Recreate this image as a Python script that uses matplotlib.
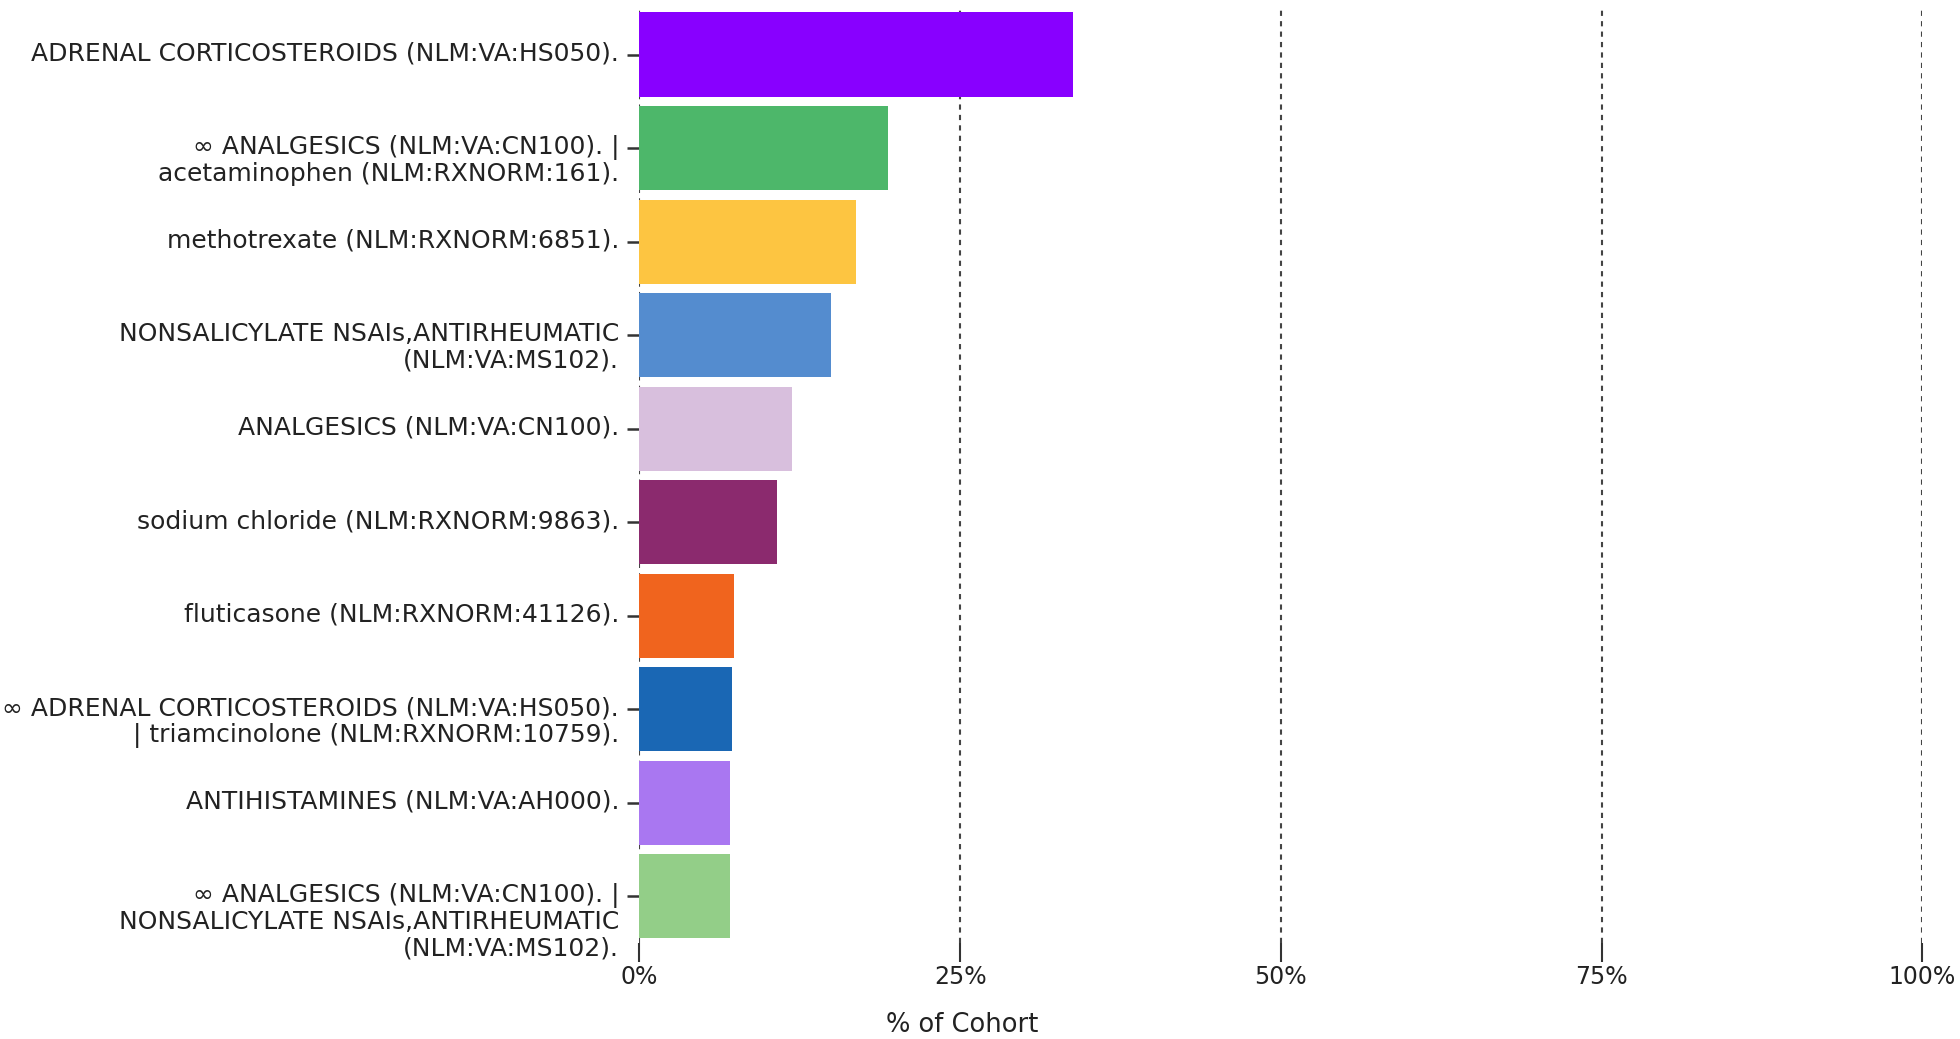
import matplotlib
matplotlib.use("Agg")
import matplotlib.pyplot as plt
from matplotlib.ticker import FuncFormatter

categories = [
    "ADRENAL CORTICOSTEROIDS (NLM:VA:HS050).",
    "∞ ANALGESICS (NLM:VA:CN100). |\nacetaminophen (NLM:RXNORM:161).",
    "methotrexate (NLM:RXNORM:6851).",
    "NONSALICYLATE NSAIs,ANTIRHEUMATIC\n(NLM:VA:MS102).",
    "ANALGESICS (NLM:VA:CN100).",
    "sodium chloride (NLM:RXNORM:9863).",
    "fluticasone (NLM:RXNORM:41126).",
    "∞ ADRENAL CORTICOSTEROIDS (NLM:VA:HS050).\n| triamcinolone (NLM:RXNORM:10759).",
    "ANTIHISTAMINES (NLM:VA:AH000).",
    "∞ ANALGESICS (NLM:VA:CN100). |\nNONSALICYLATE NSAIs,ANTIRHEUMATIC\n(NLM:VA:MS102).",
]
values = [33.8, 19.4, 16.9, 14.9, 11.9, 10.75, 7.4, 7.2, 7.1, 7.1]
colors = ["#8800FF", "#4DB76A", "#FDC541", "#548CCF", "#D8BFDD",
          "#8B2A6E", "#F0641E", "#1A67B4", "#A977F1", "#93CE88"]
xticks = [0, 25, 50, 75, 100]
xlabel = "% of Cohort"

plt.rcParams['font.family'] = ['DejaVu Sans']
fig = plt.figure(figsize=(19.6, 10.39), dpi=100)
ax = fig.add_axes([0.3262, 0.0924, 0.9808 - 0.3262, 0.9925 - 0.0924])

ypos = list(range(len(categories)))
ax.barh(ypos, values, height=0.9, color=colors, zorder=2)
ax.set_ylim(len(categories) - 0.5, -0.5)
ax.set_xlim(0, 100)
ax.set_yticks(ypos)
ax.set_yticklabels([""] * len(categories))
ytrans = ax.get_yaxis_transform()
for y, lab in zip(ypos, categories):
    for k, line in enumerate(lab.split("\n")):
        ax.annotate(line, xy=(0, y), xycoords=ytrans,
                    xytext=(-14.6, -4.4 - k * 19.0), textcoords='offset points',
                    ha='right', va='baseline', fontsize=18.0, color="#222222",
                    annotation_clip=False)
ax.set_xticks(xticks)
ax.xaxis.set_major_formatter(FuncFormatter(lambda v, p: f"{int(v)}%"))
ax.tick_params(axis='x', labelsize=17, length=14, width=1.5, color="#333333", labelcolor="#222222", pad=2)
ax.tick_params(axis='y', length=9, width=1.8, color="#333333", pad=5)
for s in ax.spines.values():
    s.set_visible(False)
ax.grid(axis='x', linestyle=(0, (2.5, 2.5)), color="#444444", linewidth=1.5, zorder=1)
ax.grid(axis='y', visible=False)
fig.text(0.491, 1 - 1025 / 1039, xlabel, fontsize=18.5, color="#222222", ha='center', va='center')

fig.savefig("out.png", dpi=100, facecolor="white")
